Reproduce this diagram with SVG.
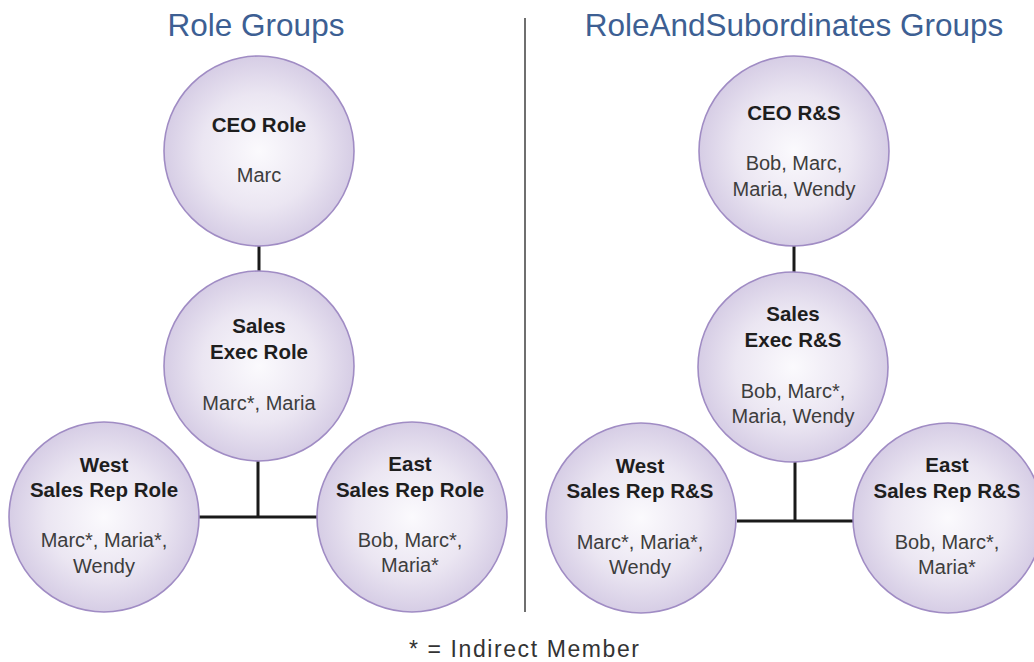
<svg xmlns="http://www.w3.org/2000/svg" width="1034" height="662" viewBox="0 0 1034 662">
<defs>
<radialGradient id="g" cx="50%" cy="50%" r="50%">
<stop offset="0" stop-color="#fbfafd"/>
<stop offset="0.6" stop-color="#ebe6f2"/>
<stop offset="1" stop-color="#d6cde5"/>
</radialGradient>
</defs>
<style>
.c{fill:url(#g);stroke:#a08cc4;stroke-width:1.6}
.t{font-family:"Liberation Sans",Arial,sans-serif;font-size:31.5px;fill:#3d5f93;text-anchor:middle}
.b{font-family:"Liberation Sans",Arial,sans-serif;font-size:20.5px;font-weight:bold;fill:#1e1e1e;text-anchor:middle}
.r{font-family:"Liberation Sans",Arial,sans-serif;font-size:20px;fill:#3d3d3d;text-anchor:middle}
.f{font-family:"Liberation Sans",Arial,sans-serif;font-size:23px;fill:#333;text-anchor:middle}
.l{stroke:#1a1a1a;stroke-width:3;fill:none}
</style>
<rect width="1034" height="662" fill="#fff"/>
<text class="t" x="256" y="36">Role Groups</text>
<text class="t" x="794" y="36">RoleAndSubordinates Groups</text>
<line x1="525" y1="18" x2="525" y2="612" stroke="#6f6f6f" stroke-width="2"/>
<g id="connectors">
<path class="l" d="M259 245V273"/>
<path class="l" d="M258 460V517M199 517H317"/>
<path class="l" d="M794 245V274"/>
<path class="l" d="M795 462V521M737 521H853"/>
</g>
<g id="ceo-role">
<circle class="c" cx="259" cy="151" r="95"/>
<text class="b" x="259" y="132">CEO Role</text>
<text class="r" x="259" y="182">Marc</text>
</g>
<g id="sales-exec-role">
<circle class="c" cx="259" cy="366" r="95"/>
<text class="b" x="259" y="333">Sales</text>
<text class="b" x="259" y="359">Exec Role</text>
<text class="r" x="259" y="410">Marc*, Maria</text>
</g>
<g id="west-role">
<circle class="c" cx="104" cy="517" r="95"/>
<text class="b" x="104" y="472">West</text>
<text class="b" x="104" y="497">Sales Rep Role</text>
<text class="r" x="104" y="547">Marc*, Maria*,</text>
<text class="r" x="104" y="573">Wendy</text>
</g>
<g id="east-role">
<circle class="c" cx="412" cy="517" r="95"/>
<text class="b" x="410" y="471">East</text>
<text class="b" x="410" y="497">Sales Rep Role</text>
<text class="r" x="410" y="547">Bob, Marc*,</text>
<text class="r" x="410" y="572">Maria*</text>
</g>
<g id="ceo-rs">
<circle class="c" cx="794" cy="151" r="95"/>
<text class="b" x="794" y="120">CEO R&amp;S</text>
<text class="r" x="794" y="170">Bob, Marc,</text>
<text class="r" x="794" y="196">Maria, Wendy</text>
</g>
<g id="sales-exec-rs">
<circle class="c" cx="793" cy="367" r="95"/>
<text class="b" x="793" y="321">Sales</text>
<text class="b" x="793" y="347">Exec R&amp;S</text>
<text class="r" x="793" y="398">Bob, Marc*,</text>
<text class="r" x="793" y="423">Maria, Wendy</text>
</g>
<g id="west-rs">
<circle class="c" cx="641" cy="518" r="95"/>
<text class="b" x="640" y="473">West</text>
<text class="b" x="640" y="498">Sales Rep R&amp;S</text>
<text class="r" x="640" y="549">Marc*, Maria*,</text>
<text class="r" x="640" y="574">Wendy</text>
</g>
<g id="east-rs">
<circle class="c" cx="948" cy="518" r="95"/>
<text class="b" x="947" y="472">East</text>
<text class="b" x="947" y="498">Sales Rep R&amp;S</text>
<text class="r" x="947" y="549">Bob, Marc*,</text>
<text class="r" x="947" y="574">Maria*</text>
</g>
<text class="f" x="524" y="657" textLength="230" lengthAdjust="spacing">* = Indirect Member</text>
</svg>
